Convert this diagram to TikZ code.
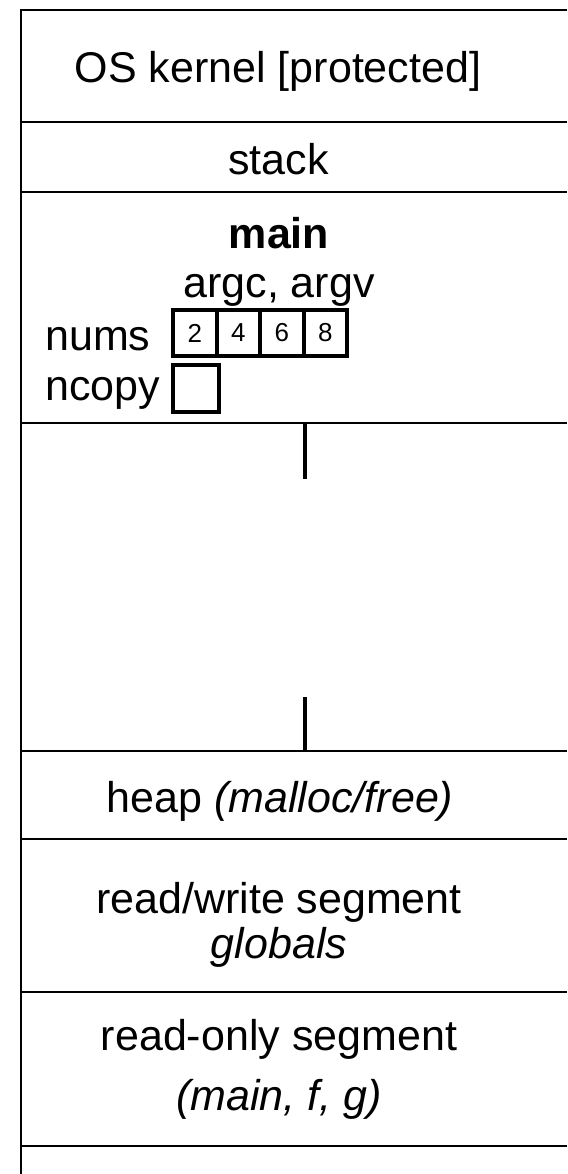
\documentclass[tikz,border=0pt]{standalone}
\usepackage{fontspec}
\setmainfont{Liberation Sans}
\usetikzlibrary{positioning}
\tikzset{
	x=1pt, y=-1pt, % una unidad = un pixel, y hacia abajo
	divider/.style={line width=2pt}, % lineas entre segmentos
	growth/.style={line width=4pt}, % marcas de crecimiento
	txt/.style={font=\fontsize{43}{50}\selectfont, inner sep=0pt, anchor=base}, % textos
	cell/.style={draw, line width=4pt, minimum width=43.5pt, minimum height=46pt,
		inner sep=0pt, outer sep=0pt, font=\fontsize{26}{30}\selectfont} % casillas
}

\begin{document}
\begin{tikzpicture}
	\useasboundingbox (0,0) rectangle (567,1174);
	% segmentos
	\draw[divider] (21,1174) -- (21,10) -- (567,10);
	\draw[divider] (21,122) -- (567,122);
	\draw[divider] (21,192) -- (567,192);
	\draw[divider] (21,423) -- (567,423);
	\draw[divider] (21,751) -- (567,751);
	\draw[divider] (21,839) -- (567,839);
	\draw[divider] (21,992) -- (567,992);
	\draw[divider] (21,1146) -- (567,1146);
	\draw[growth] (304.5,423) -- (304.5,479);
	\draw[growth] (304.5,697) -- (304.5,751);
	% textos
	\node[txt] (kernel) at (278,83) {OS kernel [protected]};
	\node[txt] (stack) at (278.5,175) {stack};
	\node[txt] (main) at (279,248) {\bfseries main};
	\node[txt] (args) at (279,297) {argc, argv};
	\node[txt, anchor=base west] (nums) at (45,350) {nums};
	\node[txt, anchor=base west] (ncopy) at (45,400) {ncopy};
	\node[txt] (heap) at (280,812) {heap \itshape(malloc/free)};
	\node[txt] (rw) at (279,913) {read/write segment};
	\node[txt] (globals) at (279,958) {\itshape globals};
	\node[txt] (ro) at (279,1050) {read-only segment};
	\node[txt] (code) at (279,1110) {\itshape(main, f, g)};
	% casillas
	\node[cell] (n1) at (194.75,333) {2};
	\node[cell, right=0pt of n1] (n2) {4};
	\node[cell, right=0pt of n2] (n3) {6};
	\node[cell, right=0pt of n3] (n4) {8};
	\node[cell, minimum width=46pt, minimum height=47pt] (nc) at (196,388.5) {};
\end{tikzpicture}
\end{document}
